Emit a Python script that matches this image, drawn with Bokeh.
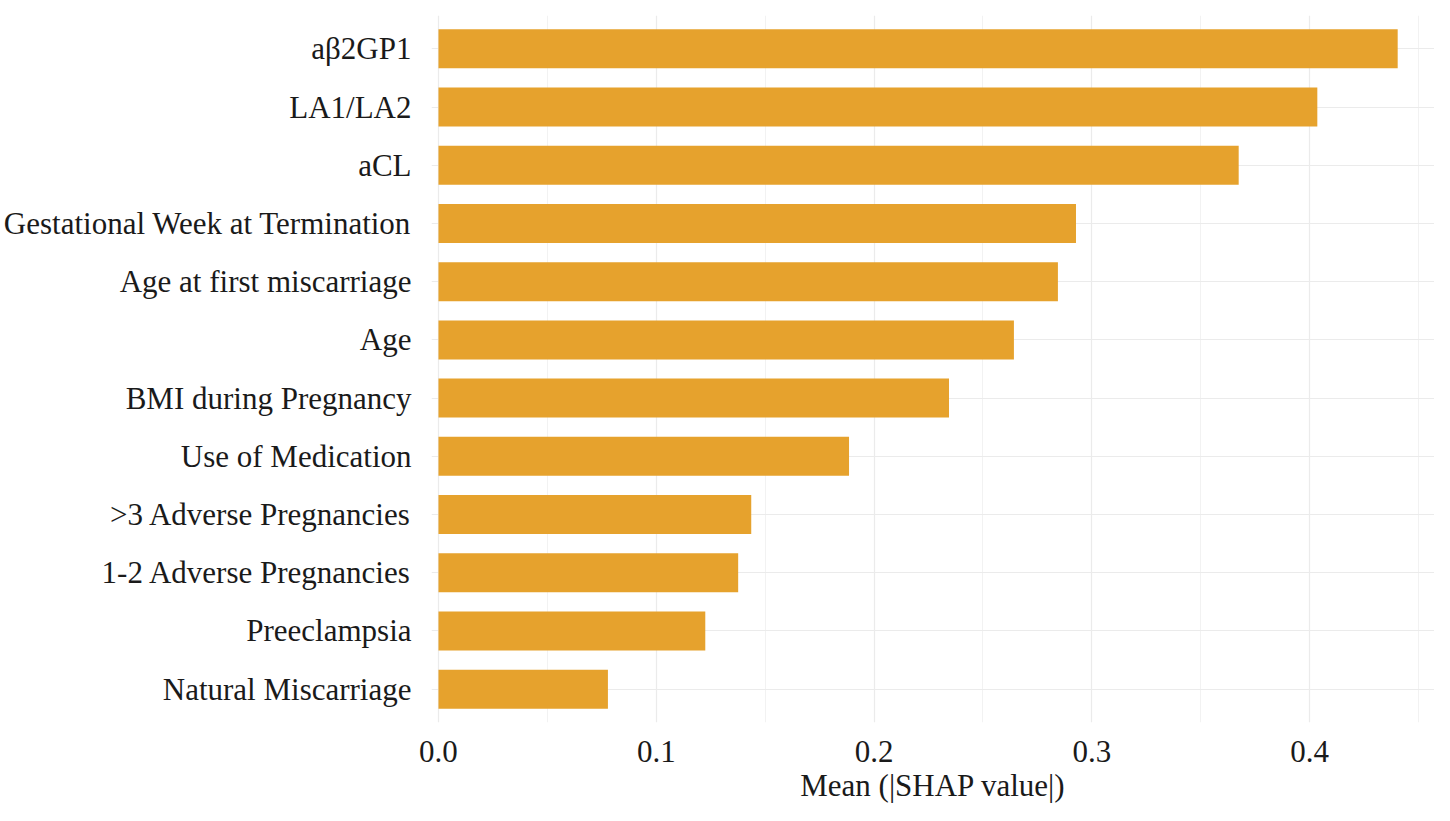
from bokeh.plotting import figure
from bokeh.models import Range1d, FixedTicker, ColumnDataSource
from bokeh.embed import file_html
from bokeh.resources import INLINE

features = ["aβ2GP1", "LA1/LA2", "aCL", "Gestational Week at Termination",
            "Age at first miscarriage", "Age", "BMI during Pregnancy",
            "Use of Medication", ">3 Adverse Pregnancies", "1-2 Adverse Pregnancies",
            "Preeclampsia", "Natural Miscarriage"]
shap_values = [0.4404, 0.4035, 0.3674, 0.2927, 0.2844, 0.2642, 0.2344,
               0.1885, 0.1436, 0.1376, 0.1225, 0.0778]
x_ticks = [0.0, 0.1, 0.2, 0.3, 0.4]
x_minor = [0.05, 0.15, 0.25, 0.35, 0.45]

n = len(features)
pos = [n - 1 - i for i in range(n)]
src = ColumnDataSource(dict(y=pos, v=shap_values, name=features))

FONT = "Liberation Serif"
p = figure(width=1434, height=805, output_backend="svg", toolbar_location=None,
           x_range=Range1d(-0.0032, 0.4573), y_range=Range1d(-0.573, n - 1 + 0.573),
           min_border_left=430, min_border_right=0, min_border_top=15, min_border_bottom=80)
p.outline_line_color = None
p.background_fill_color = "white"

p.hbar(y="y", left=0, right="v", height=0.67, source=src,
       fill_color="#E6A22D", line_color=None)

p.xaxis.ticker = FixedTicker(ticks=x_ticks, minor_ticks=x_minor)
p.xaxis.major_label_overrides = {t: f"{t:.1f}" for t in x_ticks}
p.yaxis.ticker = FixedTicker(ticks=pos)
p.yaxis.major_label_overrides = {pp: f for pp, f in zip(pos, features)}

for ax in (p.xaxis[0], p.yaxis[0]):
    ax.axis_line_color = None
    ax.major_tick_line_color = None
    ax.minor_tick_line_color = None
    ax.major_tick_out = 0
    ax.major_tick_in = 0
    ax.minor_tick_out = 0
    ax.minor_tick_in = 0
    ax.major_label_text_font = FONT
    ax.major_label_text_color = "#1a1a1a"
    ax.major_label_text_font_size = "31px"

p.xaxis.major_label_standoff = 18
p.yaxis.major_label_standoff = 20
p.xaxis.axis_label = "Mean (|SHAP value|)"
p.xaxis.axis_label_text_font = FONT
p.xaxis.axis_label_text_font_style = "normal"
p.xaxis.axis_label_text_font_size = "31px"
p.xaxis.axis_label_text_color = "#1a1a1a"
p.xaxis.axis_label_standoff = 3

p.xgrid.grid_line_color = "#EBEBEB"
p.xgrid.grid_line_width = 1.2
p.xgrid.minor_grid_line_color = "#F2F2F2"
p.xgrid.minor_grid_line_width = 1
p.ygrid.grid_line_color = "#EBEBEB"
p.ygrid.grid_line_width = 1.2
p.ygrid.ticker = FixedTicker(ticks=pos)
p.xgrid.level = "underlay"
p.ygrid.level = "underlay"

open("out.html", "w").write(file_html(p, INLINE))
